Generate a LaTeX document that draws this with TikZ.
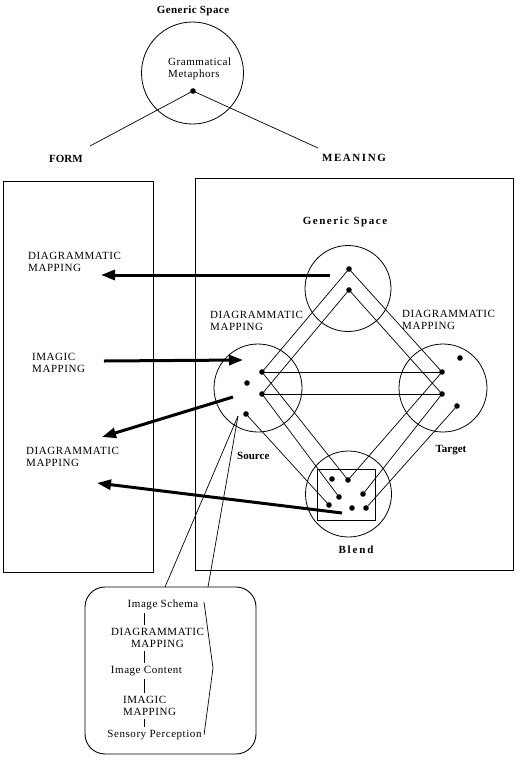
\documentclass[tikz,border=0pt]{standalone}
\usepackage{fontspec}
\setmainfont{Liberation Serif}
\usetikzlibrary{arrows.meta}
\begin{document}
\begin{tikzpicture}[x=1pt,y=-1pt,
  space/.style={circle,draw,line width=0.8pt,inner sep=0pt},
  dot/.style={circle,fill,inner sep=0pt,minimum size=5.6pt},
  lbl/.style={font=\fontsize{11}{12}\selectfont\addfontfeatures{LetterSpace=5},inner sep=0pt,align=left},
  sub/.style={font=\fontsize{11}{12}\selectfont\addfontfeatures{LetterSpace=5},inner xsep=0pt,inner ysep=3pt},
  bold/.style={font=\fontsize{11}{12}\selectfont\bfseries,inner sep=0pt},
  frame/.style={draw,line width=0.9pt},
  bigarrow/.style={line width=3pt,-{Triangle[length=14pt,width=10pt]}},
  link/.style={line width=0.7pt}
]
\useasboundingbox (0,0) rectangle (520,761);

% ---------- top generic space ----------
\node[bold,anchor=base] (gs0) at (193,13.5) {\addfontfeatures{LetterSpace=4}Generic Space};
\node[space,minimum size=102pt] (gc0) at (192.5,73) {};
\node[lbl,anchor=north west] (gm) at (168,58) {Grammatical\\Metaphors};
\node[dot] (gd0) at (193,91) {};
\coordinate (fe) at (90,146);
\coordinate (me) at (318,148);
\draw[link] (gd0.center) -- (fe);
\draw[link] (gd0.center) -- (me);
\node[bold,anchor=base west] (form) at (49,162) {FORM};
\node[bold,anchor=base west] (meaning) at (322,161) {\addfontfeatures{LetterSpace=14}MEANING};

% ---------- frames ----------
\draw[frame] (3,181) rectangle (153,572);
\draw[frame] (195,178) rectangle (513,570);

% ---------- left labels ----------
\node[lbl,anchor=north west] (ldm1) at (28,252) {DIAGRAMMATIC\\MAPPING};
\node[lbl,anchor=north west] (lim) at (32,353) {IMAGIC\\MAPPING};
\node[lbl,anchor=north west] (ldm2) at (26,447) {DIAGRAMMATIC\\MAPPING};

% ---------- mental spaces ----------
\node[bold,anchor=base] (gs1) at (345,224) {\addfontfeatures{LetterSpace=14}Generic Space};
\node[space,minimum size=86pt] (gc) at (348,288.5) {};
\node[space,minimum size=88pt] (sc) at (258,388) {};
\node[space,minimum size=88pt] (tc) at (443,388) {};
\node[space,minimum size=86pt] (bc) at (348.5,494) {};
\draw[line width=0.8pt] (317.7,469) rectangle (375,520);

\node[lbl,anchor=north west] (sdm) at (210,311) {DIAGRAMMATIC\\MAPPING};
\node[lbl,anchor=north west] (tdm) at (402,310) {DIAGRAMMATIC\\MAPPING};
\node[bold,anchor=base west] (src) at (237,459) {Source};
\node[bold,anchor=base] (tgt) at (451,452) {Target};
\node[bold,anchor=base] (bld) at (356,553) {B\,l\,e\,n\,d};

% dots
\node[dot] (g1) at (349,269) {};
\node[dot] (g2) at (349,290) {};
\node[dot] (s1) at (262,372) {};
\node[dot] (s2) at (262,394) {};
\node[dot] (s3) at (247,383) {};
\node[dot] (s4) at (246,414) {};
\node[dot] (t1) at (442,372) {};
\node[dot] (t2) at (442,394) {};
\node[dot] (t3) at (460,358) {};
\node[dot] (t4) at (457,406) {};
\node[dot] (b1) at (332,479) {};
\node[dot] (b2) at (348,480) {};
\node[dot] (b3) at (339,497) {};
\node[dot] (b4) at (363,494) {};
\node[dot] (b5) at (329,505) {};
\node[dot] (b6) at (352,508) {};
\node[dot] (b7) at (366,508) {};

% links
\draw[link] (g1.center) -- (s1.center);
\draw[link] (g2.center) -- (s2.center);
\draw[link] (g1.center) -- (t1.center);
\draw[link] (g2.center) -- (t2.center);
\draw[link] (s1.center) -- (t1.center);
\draw[link] (s2.center) -- (t2.center);
\draw[link] (s1.center) -- (b2.center);
\draw[link] (s2.center) -- (b3.center);
\draw[link] (s4.center) -- (b5.center);
\draw[link] (t1.center) -- (b2.center);
\draw[link] (t2.center) -- (b4.center);
\draw[link] (t4.center) -- (b7.center);

% thick arrows
\coordinate (a1s) at (330,275); \coordinate (a1e) at (101,275);
\coordinate (a2s) at (104,361); \coordinate (a2e) at (243,360);
\coordinate (a3s) at (233,397); \coordinate (a3e) at (102,437);
\coordinate (a4s) at (342,513); \coordinate (a4e) at (97,483);
\draw[bigarrow] (a1s) -- (a1e);
\draw[bigarrow] (a2s) -- (a2e);
\draw[bigarrow] (a3s) -- (a3e);
\draw[bigarrow] (a4s) -- (a4e);

% ---------- bottom box ----------
\node[draw,line width=0.9pt,rounded corners=20pt,minimum width=171pt,minimum height=167pt,inner sep=0pt] (bbox) at (170.5,670.5) {};
\coordinate (sa) at (238,416);
\coordinate (ba) at (165,587);
\coordinate (bb) at (208,587);
\draw[link] (sa) -- (ba);
\draw[link] (sa) -- (bb);

\node[sub,anchor=north] (is) at (163,597) {Image Schema};
\node[sub,anchor=north,align=center] (dmb) at (157.5,625) {DIAGRAMMATIC\\MAPPING};
\node[sub,anchor=north] (ic) at (146.5,663) {Image Content};
\node[sub,anchor=north west,align=left] (imb) at (123,693) {IMAGIC\\MAPPING};
\node[sub,anchor=north] (sp) at (154.5,727) {Sensory Perception};
\coordinate (xl) at (144,0);
\draw[link] (is.south -| xl) -- (dmb.north -| xl);
\draw[link] (dmb.south -| xl) -- (ic.north -| xl);
\draw[link] (ic.south -| xl) -- (imb.north -| xl);
\draw[link] (imb.south -| xl) -- (sp.north -| xl);
\draw[link] (204,602) -- (213,668) -- (204,735);
\end{tikzpicture}
\end{document}
